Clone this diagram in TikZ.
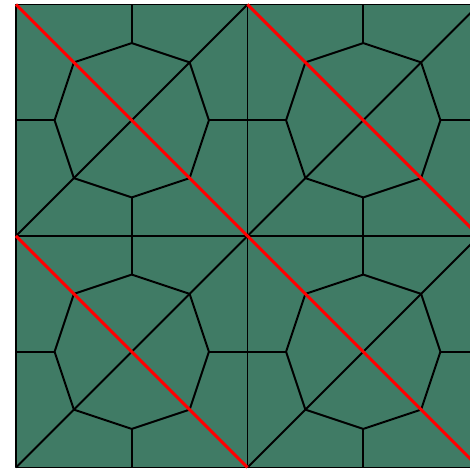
\documentclass[tikz,border=0pt]{standalone}
\usepackage{xcolor}
\usepackage{tikz}
\definecolor{tilegreen}{RGB}{64,123,101}
\tikzset{tileline/.style={black,line width=1.1pt},cutline/.style={red,line width=1.7pt}}
\begin{document}
\begin{tikzpicture}[x=0.02cm,y=0.02cm,line join=round]
\useasboundingbox (0,0) rectangle (470,469);
\clip (0,0) rectangle (470,469);
\fill[tilegreen] (16,1.5) rectangle (479,464.5);
% four tiles: square, octagon, spokes, diagonal
\foreach \cx/\cy in {131.75/348.75,363.25/348.75,131.75/117.25,363.25/117.25} {
\begin{scope}[shift={(\cx,\cy)}]
\draw[tileline] (-115.75,-115.75) rectangle (115.75,115.75);
\draw[tileline] (0,77.17)--(57.875,57.875)--(77.17,0)--(57.875,-57.875)--(0,-77.17)--(-57.875,-57.875)--(-77.17,0)--(-57.875,57.875)--cycle;
\foreach \a in {0,90,180,270} {\draw[tileline] (\a:77.17)--(\a:115.75);}
\draw[tileline] (-115.75,-115.75)--(115.75,115.75);
\end{scope}}
% red cuts on top
\foreach \cx/\cy in {131.75/348.75,363.25/348.75,131.75/117.25,363.25/117.25} {
\draw[cutline] (\cx-115.75,\cy+115.75)--(\cx+115.75,\cy-115.75);}
\end{tikzpicture}
\end{document}
